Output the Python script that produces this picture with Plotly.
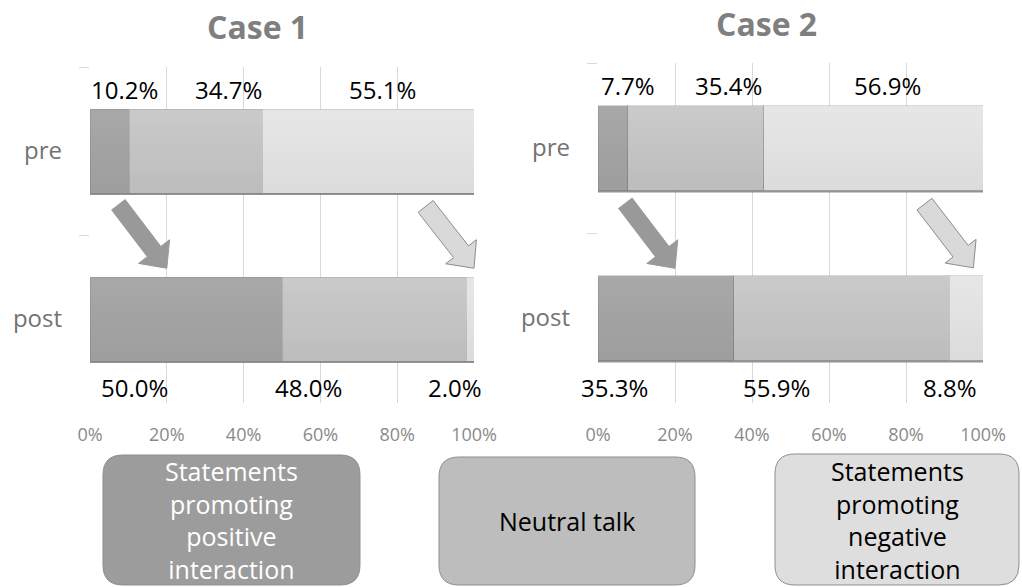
import plotly.graph_objects as go

# ---- data ----------------------------------------------------------------
stages = ["pre", "post"]
categories = [
    "Statements promoting positive interaction",
    "Neutral talk",
    "Statements promoting negative interaction",
]
case1_positive = [10.2, 50.0]
case1_neutral = [34.7, 48.0]
case1_negative = [55.1, 2.0]
case2_positive = [7.7, 35.3]
case2_neutral = [35.4, 55.9]
case2_negative = [56.9, 8.8]
case_titles = ["Case 1", "Case 2"]
x_ticks = [0, 20, 40, 60, 80, 100]
x_tick_labels = ["0%", "20%", "40%", "60%", "80%", "100%"]

# ---- styling -------------------------------------------------------------
W, H = 1022, 587
FONT = "Open Sans"
# bottom colour of each segment and how much lighter its top edge gets
seg_colors = ["#9e9e9e", "#bdbdbd", "#dcdcdc"]
seg_sheen = [0.11, 0.21, 0.32]
N_BANDS = 12

# pixel frames of the two plot areas (left, right, top, bottom)
frames = [(90, 474, 67, 403), (598, 983, 63, 403)]

# where each value label sits (x in % of the axis)
label_x = [
    [[9.1, 36.0, 76.3], [11.7, 57.0, 95.0]],
    [[7.7, 34.0, 75.2], [4.4, 46.4, 91.4]],
]
label_y_px = [[89, 387], [85, 387]]


def px_x(v):
    return v / W


def px_y(v):
    return 1 - v / H


def data_to_px(frame, pct, cat):
    l, r, t, b = frame
    return l + pct / 100 * (r - l), t + (cat + 0.5) / 2 * (b - t)


fig = go.Figure()
series = [
    [case1_positive, case1_neutral, case1_negative],
    [case2_positive, case2_neutral, case2_negative],
]

for ci, case in enumerate(series):
    xa = "x" if ci == 0 else "x2"
    ya = "y" if ci == 0 else "y2"
    for si, vals in enumerate(case):
        fig.add_trace(go.Bar(
            y=stages, x=vals, orientation="h", name=categories[si],
            marker=dict(color=seg_colors[si],
                        line=dict(color="rgba(110,110,110,0.3)", width=1)),
            xaxis=xa, yaxis=ya, showlegend=False, hoverinfo="x+name",
        ))

axis_common_x = dict(
    range=[0, 100], tickvals=x_ticks, ticktext=x_tick_labels, showgrid=True,
    gridcolor="#d9d9d9", gridwidth=1, zeroline=False, showline=False,
    ticks="", ticklabelstandoff=19, automargin=False,
    tickfont=dict(family=FONT, size=18, color="#8a8a8a"),
)
axis_common_y = dict(
    type="category", autorange="reversed", showgrid=False, zeroline=False,
    showline=False, ticks="outside", ticklen=10, tickcolor="#d9d9d9",
    tickson="boundaries", ticklabelstandoff=27, automargin=False,
    tickfont=dict(family=FONT, size=24, color="#737373"),
)

layout = dict(
    template="none",
    width=W, height=H, margin=dict(l=0, r=0, t=0, b=0, autoexpand=False),
    paper_bgcolor="white", plot_bgcolor="white",
    barmode="stack", bargap=0.5,
    font=dict(family=FONT),
)
for ci, (l, r, t, b) in enumerate(frames):
    sx = "" if ci == 0 else "2"
    layout["xaxis" + sx] = dict(axis_common_x, domain=[px_x(l), px_x(r)],
                                anchor="y" + sx)
    layout["yaxis" + sx] = dict(axis_common_y, domain=[px_y(b), px_y(t)],
                                anchor="x" + sx)
fig.update_layout(**layout)

annotations = []
shapes = []

# case titles
title_pos = [(257, 26), (766, 23)]
for title, (tx, ty) in zip(case_titles, title_pos):
    annotations.append(dict(
        text="<b>%s</b>" % title, x=px_x(tx), y=px_y(ty), xref="paper",
        yref="paper", showarrow=False, xanchor="center", yanchor="middle",
        font=dict(family=FONT, size=32, color="#7f7f7f"),
    ))

# value labels
for ci, case in enumerate(series):
    l, r, t, b = frames[ci]
    for stage_i in range(2):
        for si in range(3):
            val = case[si][stage_i]
            xp = l + label_x[ci][stage_i][si] / 100 * (r - l)
            annotations.append(dict(
                text="%.1f%%" % val, x=px_x(xp),
                y=px_y(label_y_px[ci][stage_i]), xref="paper", yref="paper",
                showarrow=False, xanchor="center", yanchor="middle",
                font=dict(family=FONT, size=24, color="#000000"),
            ))

# vertical sheen on each bar segment (lighter at the top) and a soft
# shadow along the bottom edge of every bar
for ci, case in enumerate(series):
    xref = "x" if ci == 0 else "x2"
    for stage_i in range(2):
        _, ytop = data_to_px(frames[ci], 0, stage_i - 0.25)
        _, ybot = data_to_px(frames[ci], 0, stage_i + 0.25)
        start = 0.0
        for si in range(3):
            end = start + case[si][stage_i]
            for k in range(N_BANDS):
                a = seg_sheen[si] * (1 - (k + 0.5) / N_BANDS)
                y0 = ytop + (ybot - ytop) * k / N_BANDS
                y1 = ytop + (ybot - ytop) * (k + 1) / N_BANDS
                shapes.append(dict(
                    type="rect", xref=xref, yref="paper",
                    x0=start, x1=end, y0=px_y(y0), y1=px_y(y1),
                    fillcolor="rgba(255,255,255,%.3f)" % a,
                    line=dict(width=0), layer="above",
                ))
            start = end
        x0, _ = data_to_px(frames[ci], 0, 0)
        x1, _ = data_to_px(frames[ci], start, 0)
        shapes.append(dict(
            type="line", xref="paper", yref="paper",
            x0=px_x(x0), x1=px_x(x1), y0=px_y(ybot + 1), y1=px_y(ybot + 1),
            line=dict(color="rgba(120,120,120,0.8)", width=2), layer="above",
        ))


# block arrows between pre and post bars
def block_arrow(frame, tail, tip, half_shaft, half_head, head_len):
    tx, ty = data_to_px(frame, *tail)
    hx, hy = data_to_px(frame, *tip)
    dx, dy = hx - tx, hy - ty
    n = (dx * dx + dy * dy) ** 0.5
    dx, dy = dx / n, dy / n
    nx, ny = -dy, dx
    bx, by = hx - dx * head_len, hy - dy * head_len
    pts = [
        (tx + nx * half_shaft, ty + ny * half_shaft),
        (bx + nx * half_shaft, by + ny * half_shaft),
        (bx + nx * half_head, by + ny * half_head),
        (hx, hy),
        (bx - nx * half_head, by - ny * half_head),
        (bx - nx * half_shaft, by - ny * half_shaft),
        (tx - nx * half_shaft, ty - ny * half_shaft),
    ]
    return "M " + " L ".join("%.5f,%.5f" % (px_x(a), px_y(c)) for a, c in pts) + " Z"


arrows = [
    (0, (7.4, 0.32), (20.0, 0.698), 8.5, "#999999", "#999999"),
    (0, (87.4, 0.33), (100.0, 0.698), 9.5, "#d9d9d9", "#8c8c8c"),
    (1, (7.1, 0.325), (20.0, 0.708), 8.5, "#999999", "#999999"),
    (1, (84.8, 0.33), (97.5, 0.705), 9.5, "#d9d9d9", "#8c8c8c"),
]
for ci, tail, tip, hs, fillc, linec in arrows:
    shapes.append(dict(
        type="path", xref="paper", yref="paper",
        path=block_arrow(frames[ci], tail, tip, hs, 19.5, 21),
        fillcolor=fillc, line=dict(color=linec, width=1), layer="above",
    ))


# legend boxes
def rounded_rect(x0, y0, x1, y1, rad):
    p = [
        ("M", (x0 + rad, y0)), ("L", (x1 - rad, y0)),
        ("Q", (x1, y0), (x1, y0 + rad)), ("L", (x1, y1 - rad)),
        ("Q", (x1, y1), (x1 - rad, y1)), ("L", (x0 + rad, y1)),
        ("Q", (x0, y1), (x0, y1 - rad)), ("L", (x0, y0 + rad)),
        ("Q", (x0, y0), (x0 + rad, y0)),
    ]
    out = []
    for cmd, *coords in p:
        out.append(cmd + " " + " ".join("%.5f,%.5f" % (px_x(a), px_y(c)) for a, c in coords))
    return " ".join(out) + " Z"


legend_boxes = [
    ((103, 455, 360, 585), "#9c9c9c", "#8e8e8e", "#ffffff",
     "Statements<br>promoting<br>positive<br>interaction"),
    ((439, 457, 695, 585), "#bdbdbd", "#8e8e8e", "#000000", "Neutral talk"),
    ((775, 454, 1019, 585), "#dedede", "#8e8e8e", "#000000",
     "Statements<br>promoting<br>negative<br>interaction"),
]
for (x0, y0, x1, y1), fillc, linec, txtc, txt in legend_boxes:
    shapes.append(dict(
        type="path", xref="paper", yref="paper",
        path=rounded_rect(x0, y0, x1, y1, 20),
        fillcolor=fillc, line=dict(color=linec, width=1), layer="above",
    ))
    annotations.append(dict(
        text=txt, x=px_x((x0 + x1) / 2), y=px_y((y0 + y1) / 2),
        xref="paper", yref="paper", showarrow=False,
        xanchor="center", yanchor="middle",
        font=dict(family=FONT, size=25, color=txtc),
    ))

fig.update_layout(annotations=annotations, shapes=shapes)
fig.write_html("out.html")
